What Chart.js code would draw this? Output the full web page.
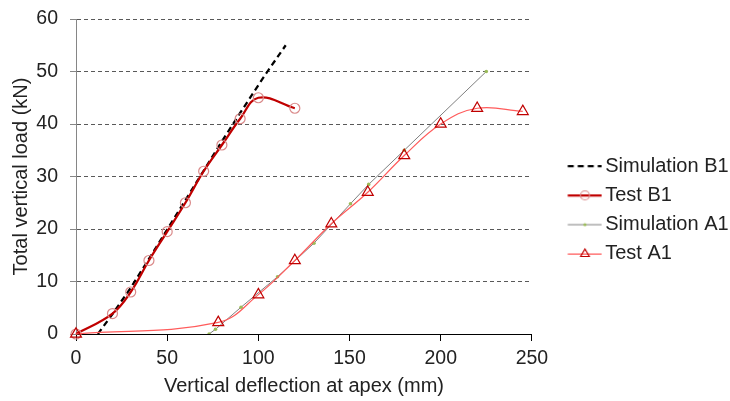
<!DOCTYPE html>
<html>
<head>
<meta charset="utf-8">
<title>Total vertical load vs deflection</title>
<script src="https://cdn.jsdelivr.net/npm/chart.js@4.4.1/dist/chart.umd.min.js"></script>
<style>
  html, body { margin: 0; padding: 0; background: #fff; }
  #wrap { width: 730px; height: 401px; }
</style>
</head>
<body>
<div id="wrap"><canvas id="chart"></canvas></div>
<script>
// values
const seriesNames = ["Simulation B1", "Test B1", "Simulation A1", "Test A1"];

const simB1X = [12, 20, 30, 40, 50, 60, 70, 80, 90, 100, 105, 115];
const simB1Y = [0, 3.8, 8.8, 14.3, 19.9, 25.5, 31.1, 36.7, 42.1, 47.4, 50, 55];

const testB1X = [0, 20, 30, 40, 50, 60, 70, 80, 90, 100, 120];
const testB1Y = [0, 3.9, 8, 14, 19.5, 25, 31, 36, 41, 45, 43];

const simA1X = [73, 76.5, 90.5, 110.5, 130.5, 150.5, 160.5, 180, 225];
const simA1Y = [0, 0.9, 5.1, 10.9, 17.3, 24.8, 28.5, 35, 50];

const testA1X = [0, 78, 100, 120, 140, 160, 180, 200, 220, 245];
const testA1Y = [0, 2.2, 7.5, 14, 21, 27, 34, 40, 43, 42.4];

const xTicks = [0, 50, 100, 150, 200, 250];
const yTicks = [0, 10, 20, 30, 40, 50, 60];

const toPoints = (xs, ys) => xs.map((x, i) => ({ x: x, y: ys[i] }));

// legend swatch: short line with the series marker, drawn into a small canvas
const SW_W = 68, SW_H = 16, LINE_FROM = 33.5;
function swatch(ds) {
  const c = document.createElement("canvas");
  c.width = SW_W;
  c.height = SW_H;
  const g = c.getContext("2d");
  const cy = SW_H / 2;
  g.strokeStyle = ds.borderColor;
  g.lineWidth = ds.borderWidth;
  g.setLineDash(ds.borderDash || []);
  g.beginPath();
  g.moveTo(LINE_FROM, cy);
  g.lineTo(SW_W - 0.5, cy);
  g.stroke();
  g.setLineDash([]);
  const mx = (LINE_FROM + SW_W) / 2;
  const r = ds.legendMarker || 0;
  if (r > 0) {
    g.strokeStyle = ds.pointBorderColor;
    g.fillStyle = ds.pointBackgroundColor;
    g.lineWidth = ds.pointBorderWidth;
    g.beginPath();
    if (ds.pointStyle === "triangle") {
      g.moveTo(mx, cy - r);
      g.lineTo(mx + r * 0.866, cy + r * 0.5);
      g.lineTo(mx - r * 0.866, cy + r * 0.5);
      g.closePath();
    } else {
      g.arc(mx, cy, r, 0, Math.PI * 2);
    }
    g.fill();
    if (ds.pointBorderWidth > 0) g.stroke();
  }
  return c;
}

Chart.defaults.font.family = '"Liberation Sans", Arial, sans-serif';
Chart.defaults.font.size = 19.5;
Chart.defaults.color = "#222";

const datasets = [
  {
    label: seriesNames[0],
    data: toPoints(simB1X, simB1Y),
    borderColor: "#000",
    borderWidth: 2.25,
    borderDash: [6, 4],
    pointRadius: 0,
    tension: 0,
    order: 4
  },
  {
    label: seriesNames[1],
    data: toPoints(testB1X, testB1Y),
    borderColor: "#C00000",
    borderWidth: 2.25,
    pointStyle: "circle",
    pointRadius: 5,
    legendMarker: 4.5,
    pointBorderColor: "#DA8A8A",
    pointBackgroundColor: "rgba(255,255,255,0)",
    pointBorderWidth: 1.2,
    tension: 0.4,
    clip: false,
    order: 3
  },
  {
    label: seriesNames[2],
    data: toPoints(simA1X, simA1Y),
    borderColor: "#7F7F7F",
    borderWidth: 1,
    pointStyle: "circle",
    pointRadius: 1.8,
    legendMarker: 1.6,
    pointBorderColor: "#9BBB59",
    pointBackgroundColor: "#9BBB59",
    pointBorderWidth: 0,
    tension: 0,
    order: 2
  },
  {
    label: seriesNames[3],
    data: toPoints(testA1X, testA1Y),
    borderColor: "#FF5B5B",
    borderWidth: 1.25,
    pointStyle: "triangle",
    pointRadius: 6.3,
    legendMarker: 5,
    pointBorderColor: "#C00000",
    pointBackgroundColor: "rgba(255,255,255,0)",
    pointBorderWidth: 1.2,
    tension: 0.4,
    clip: false,
    order: 1
  }
];

new Chart(document.getElementById("chart"), {
  type: "scatter",
  data: { datasets: datasets.map((d) => Object.assign({ showLine: true, fill: false }, d)) },
  options: {
    responsive: true,
    maintainAspectRatio: false,
    animation: false,
    layout: { padding: { top: 19, right: -8.6, bottom: 0, left: 0 } },
    plugins: {
      tooltip: { enabled: false },
      legend: {
        position: "right",
        align: "center",
        maxHeight: 371,
        maxWidth: 260,
        labels: {
          usePointStyle: true,
          pointStyleWidth: 54,
          padding: 9.3,
          color: "#222",
          font: { size: 20 },
          generateLabels: (chart) =>
            chart.data.datasets.map((ds, i) => ({
              text: ds.label,
              pointStyle: swatch(ds),
              fontColor: "#222",
              strokeStyle: "transparent",
              fillStyle: "transparent",
              lineWidth: 0,
              hidden: false,
              datasetIndex: i
            }))
        }
      }
    },
    scales: {
      x: {
        type: "linear",
        min: xTicks[0],
        max: xTicks[xTicks.length - 1],
        afterFit: (scale) => { scale.height = 67; },
        ticks: { stepSize: xTicks[1] - xTicks[0], padding: 6, color: "#222", maxRotation: 0 },
        grid: {
          drawOnChartArea: false,
          drawTicks: true,
          tickLength: 7,
          tickColor: "#000"
        },
        border: { color: "#000", width: 1 },
        title: {
          display: true,
          text: "Vertical deflection at apex (mm)",
          color: "#222",
          font: { size: 20 },
          padding: { top: 5, bottom: 3 }
        }
      },
      y: {
        type: "linear",
        min: yTicks[0],
        max: yTicks[yTicks.length - 1],
        afterFit: (scale) => { scale.width = 76; },
        ticks: {
          stepSize: yTicks[1] - yTicks[0],
          padding: 12,
          color: "#222",
          font: { size: 19.5, lineHeight: 0.6 }
        },
        grid: {
          color: (ctx) => (ctx.tick && ctx.tick.value === 0 ? "rgba(0,0,0,0)" : "#595959"),
          lineWidth: 1,
          tickLength: 6,
          tickColor: "#868686",
          tickBorderDash: []
        },
        border: { color: "#868686", width: 1, dash: [4, 3] },
        title: {
          display: true,
          text: "Total vertical load (kN)",
          color: "#222",
          font: { size: 20 },
          padding: { top: 9, bottom: 4 }
        }
      }
    }
  }
});
</script>
</body>
</html>
